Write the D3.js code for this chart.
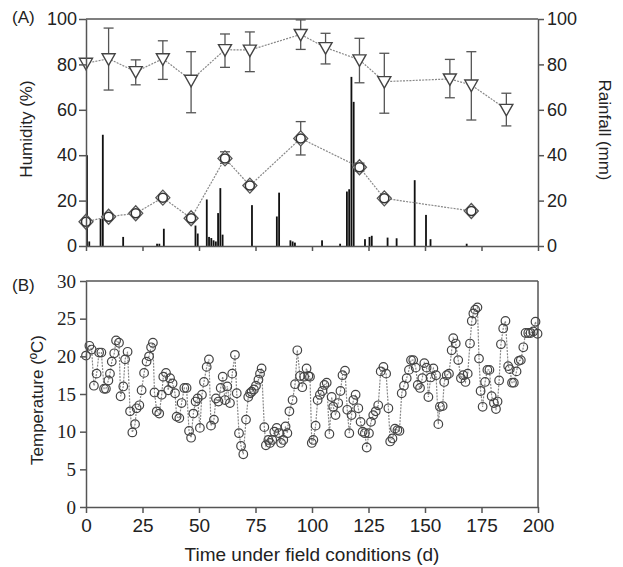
<!DOCTYPE html>
<html>
<head>
<meta charset="utf-8">
<script src="https://cdn.jsdelivr.net/npm/d3@7"></script>
<style>
    body { margin: 0; background: #fff; }
    text { fill: #222; }
</style>
</head>
<body>
<div id="chart"></div>
<script>
(function () {
    'use strict';

    // tick labels
    var xTicks = [0, 25, 50, 75, 100, 125, 150, 175, 200];
    var yTicksA = [0, 20, 40, 60, 80, 100];
    var yTicksB = [0, 5, 10, 15, 20, 25, 30];

    // panel A: humidity (triangles) with error bars
    var humDays = [0, 10, 22, 34, 46.5, 61.5, 72.5, 95, 106, 121, 132, 161, 170.5, 186];
    var humMean = [80.5, 82.5, 76.8, 82.5, 73, 86.5, 86.3, 93.2, 87.4, 82, 72.4, 73.6, 70.9, 60.2];
    var humHigh = [80.5, 96, 82, 90.4, 85.6, 93.4, 94.3, 99.6, 93.7, 91.5, 84.9, 82.2, 85.6, 67.3];
    var humLow = [80.5, 68.7, 71, 73.4, 58.7, 78.7, 76.8, 86.6, 80.2, 71.9, 58.5, 65.3, 55.5, 52.9];

    // panel A: second series (diamonds)
    var diaDays = [0, 10, 22, 34, 46.5, 61.5, 72.5, 95, 121, 132, 170.5];
    var diaMean = [10.7, 12.9, 14.4, 21.3, 12.2, 38.6, 26.6, 47.4, 34.7, 21, 15.4];
    var diaHigh = [10.7, 12.9, 14.4, 21.3, 12.2, 41.5, 26.6, 54.8, 36.5, 21, 15.4];
    var diaLow = [10.7, 12.9, 14.4, 21.3, 12.2, 36.4, 26.6, 40.1, 33, 21, 15.4];

    // panel A: daily rainfall (mm)
    var rainDays = [0, 1, 6, 7, 16, 31, 32, 34, 48, 49, 53, 54, 55, 56, 57, 58, 59, 60, 73, 84, 85,
        90, 91, 92, 104, 112, 115, 116, 117, 118, 123, 125, 126, 133, 137, 145, 150, 152, 168];
    var rainMm = [40, 2, 12, 49, 4, 1, 1, 7.6, 9, 5.5, 20.5, 4, 3.5, 2.5, 2, 14.5, 25.5, 5, 18, 13, 23.5,
        2.5, 2, 1.5, 2.5, 1, 24, 25, 74.5, 63.5, 3, 4, 4.5, 3.7, 3.4, 29, 13.7, 3, 1];

    // panel B: daily temperature (ºC)
    var tempDays = [0, 1.5, 2.5, 3.5, 4.7, 5.8, 6.8, 8, 8.8, 9.9, 10.6, 11.4, 12.5, 13.3, 14.6, 15.3, 16.5,
        17.3, 18.4, 19.5, 20.5, 21.7, 22.4, 23.6, 24.6, 25.7, 26.8, 27.9, 28.8, 29.6, 30.3, 31.3, 32.4,
        33.5, 34.2, 35.4, 36.4, 37.2, 38.3, 39.4, 40.1, 41.3, 42.3, 43.5, 44.5, 45.6, 46.5, 47.5, 48.5,
        49.4, 50.4, 51.3, 52.2, 53.4, 54.4, 55.3, 56.6, 57.5, 58.6, 59.6, 60.5, 61.5, 62.5, 63.7, 64.7,
        65.9, 66.7, 67.7, 68.6, 69.6, 70.8, 71.8, 72.6, 73.3, 74.3, 75.2, 76.3, 77, 77.7, 78.9, 79.6,
        80.7, 81.4, 82.4, 83.3, 84.4, 85.4, 86.3, 87.3, 88.3, 89.1, 90, 91.4, 92.5, 93.5, 94.7, 95.7,
        96.5, 97.6, 98.4, 99.1, 99.9, 100.6, 101.6, 102.5, 103.5, 104.6, 105.5, 106.5, 107.7, 108.7,
        109.4, 110.4, 111.6, 112.6, 113.5, 114.6, 115.6, 116.5, 117.5, 118.3, 119.3, 120.5, 121.5,
        122.4, 123.4, 124.2, 125.2, 126.1, 127.1, 128.2, 129.3, 130.4, 131.6, 132.8, 133.8, 134.6,
        135.6, 136.7, 137.8, 138.7, 139.7, 140.7, 141.9, 142.9, 143.8, 144.8, 145.9, 146.8, 147.8,
        148.8, 149.7, 150.7, 151.5, 152.5, 153.7, 154.9, 155.9, 156.6, 157.8, 158.5, 159.6, 160.6,
        161.8, 162.5, 163.6, 164.7, 165.9, 166.9, 167.9, 168.9, 169.9, 170.7, 171.4, 172.2, 173.2,
        173.9, 174.6, 175.5, 176.6, 177.6, 178.5, 179.5, 180.5, 181.4, 182.1, 182.8, 183.6, 184.6,
        185.6, 186.8, 187.5, 188.5, 189.3, 190.5, 191.5, 192.4, 193.5, 194.5, 195.7, 196.7, 197.9,
        198.9, 199.8];
    var tempVals = [20.1, 21.4, 20.9, 16.1, 17.7, 20.5, 20.5, 15.7, 15.7, 16.8, 17.7, 19.3, 20.4, 22.1, 21.8,
        14.7, 16, 19.6, 20.6, 12.7, 9.9, 11, 13.1, 13.5, 15.5, 17.8, 19.3, 20, 21.2, 21.8, 15.2, 12.7,
        12.4, 14.9, 17.3, 17.8, 15.5, 17.1, 16.4, 15.1, 12, 11.8, 13.8, 15.8, 15.8, 10.1, 9.2, 12.4, 14,
        14.4, 10.5, 14.9, 16.6, 18.6, 19.6, 10.8, 11.6, 14.4, 14, 15.8, 17.3, 14.2, 16, 13.8, 17.7,
        20.2, 15.1, 9.8, 8.1, 7, 11.6, 14.6, 15.1, 15.3, 15.6, 16.1, 16.9, 17.7, 18.4, 10.6, 8.2, 8.9,
        8.5, 8.9, 10, 10.5, 9.8, 8.5, 8.9, 10.7, 9.8, 12.7, 14.2, 16.3, 20.8, 17.4, 15.9, 17.3, 18.4,
        17.4, 17.3, 8.5, 8.9, 10.8, 14.2, 14.9, 15.4, 16.2, 16.5, 9.7, 14.6, 13.3, 12.2, 13.8, 15.4,
        17.5, 18.1, 12.9, 9.8, 12.2, 14.2, 14.9, 13.1, 11.3, 10, 9.8, 7.9, 9.8, 11.3, 12.2, 12.7, 13.5,
        18, 18.6, 17.7, 13.1, 8.7, 9.1, 10.4, 10.2, 10.1, 15.1, 16.1, 17.1, 18.2, 19.5, 19.5, 18.5,
        16.2, 15.8, 17.1, 19.1, 18.5, 14.6, 17.2, 18.4, 17.5, 11, 13.3, 13.4, 16.6, 17.5, 17.7, 20.8,
        22.4, 21.7, 19.5, 17.1, 17.5, 16.6, 17.7, 21.7, 24.7, 25.7, 26.2, 26.5, 19.7, 15.4, 13.3, 16.6,
        18.2, 18.2, 14.7, 13.8, 13, 14, 16.8, 21.6, 23.7, 24.7, 18.7, 18.3, 16.5, 16.5, 18, 19.4, 19.5,
        21.2, 23.1, 23.1, 23.1, 23.3, 24.6, 23];

    var width = 623, height = 567;
    var left = 86, right = 538;
    var topA = 19, bottomA = 246;
    var topB = 281, bottomB = 507;
    var axisColor = '#555';
    var sans = '"Liberation Sans", Arial, sans-serif';
    var serif = '"Liberation Serif", "Times New Roman", serif';

    var svg = d3.select('#chart').append('svg')
        .attr('width', width)
        .attr('height', height);

    var x = d3.scaleLinear().domain([0, 200]).range([left, right]);
    var yA = d3.scaleLinear().domain([0, 100]).range([bottomA, topA]);
    var yB = d3.scaleLinear().domain([0, 30]).range([bottomB, topB]);

    function styleAxis(g, font, size) {
        g.select('.domain').attr('stroke', axisColor).attr('stroke-width', 1.5);
        g.selectAll('.tick line').attr('stroke', axisColor).attr('stroke-width', 1.5);
        g.selectAll('.tick text')
            .style('font-family', font)
            .style('font-size', size + 'px')
            .attr('fill', '#222');
    }

    function frameLine(x1, y1, x2, y2) {
        svg.append('line')
            .attr('x1', x1).attr('y1', y1)
            .attr('x2', x2).attr('y2', y2)
            .attr('stroke', axisColor)
            .attr('stroke-width', 1.5);
    }

    // ---------- panel A ----------
    frameLine(left, topA, right, topA);

    // rainfall bars
    var barW = (x(1) - x(0)) * 0.8;
    svg.append('g').selectAll('rect')
        .data(rainDays)
        .enter()
        .append('rect')
        .attr('x', function (d) { return x(d) - barW / 2 + 1; })
        .attr('y', function (d, i) { return yA(rainMm[i]); })
        .attr('width', barW)
        .attr('height', function (d, i) { return yA(0) - yA(rainMm[i]); })
        .attr('fill', '#111');

    function errorBars(days, hi, lo) {
        var g = svg.append('g')
            .attr('stroke', '#555')
            .attr('stroke-width', 1.3);
        days.forEach(function (d, i) {
            if (hi[i] - lo[i] < 0.5) { return; }
            g.append('line')
                .attr('x1', x(d)).attr('x2', x(d))
                .attr('y1', yA(hi[i])).attr('y2', yA(lo[i]));
            g.append('line')
                .attr('x1', x(d) - 5).attr('x2', x(d) + 5)
                .attr('y1', yA(hi[i])).attr('y2', yA(hi[i]));
            g.append('line')
                .attr('x1', x(d) - 5).attr('x2', x(d) + 5)
                .attr('y1', yA(lo[i])).attr('y2', yA(lo[i]));
        });
    }

    function seriesLine(days, vals, yScale) {
        var line = d3.line()
            .x(function (d) { return x(d); })
            .y(function (d, i) { return yScale(vals[i]); });
        svg.append('path')
            .datum(days)
            .attr('d', line)
            .attr('fill', 'none')
            .attr('stroke', '#888')
            .attr('stroke-width', 1.2)
            .attr('stroke-dasharray', '2,1.2');
    }

    errorBars(humDays, humHigh, humLow);
    errorBars(diaDays, diaHigh, diaLow);
    seriesLine(humDays, humMean, yA);
    seriesLine(diaDays, diaMean, yA);

    // down-pointing triangles
    svg.append('g').selectAll('path')
        .data(humDays)
        .enter()
        .append('path')
        .attr('transform', function (d, i) {
            return 'translate(' + x(d) + ',' + yA(humMean[i]) + ')';
        })
        .attr('d', 'M-6.5,-5L6.5,-5L0,6.5Z')
        .attr('fill', '#fff')
        .attr('stroke', '#444')
        .attr('stroke-width', 1.4);

    // diamond markers with inner circle
    var dia = svg.append('g').selectAll('g')
        .data(diaDays)
        .enter()
        .append('g')
        .attr('transform', function (d, i) {
            return 'translate(' + x(d) + ',' + yA(diaMean[i]) + ')';
        });
    dia.append('path')
        .attr('d', 'M0,-7.5L7,0L0,7.5L-7,0Z')
        .attr('fill', '#fff')
        .attr('stroke', '#555')
        .attr('stroke-width', 1.3);
    dia.append('circle')
        .attr('r', 4.5)
        .attr('fill', 'none')
        .attr('stroke', '#333')
        .attr('stroke-width', 1.5);

    var axLeftA = svg.append('g')
        .attr('transform', 'translate(' + left + ',0)')
        .call(d3.axisLeft(yA).tickValues(yTicksA).tickSize(7).tickSizeOuter(0).tickPadding(2));
    styleAxis(axLeftA, sans, 18);

    var axRightA = svg.append('g')
        .attr('transform', 'translate(' + right + ',0)')
        .call(d3.axisRight(yA).tickValues(yTicksA).tickSize(6).tickSizeOuter(0).tickPadding(3));
    styleAxis(axRightA, sans, 18);

    var axBottomA = svg.append('g')
        .attr('transform', 'translate(0,' + bottomA + ')')
        .call(d3.axisBottom(x).tickValues(xTicks).tickSize(5).tickSizeOuter(0).tickFormat(''));
    styleAxis(axBottomA, sans, 18);

    svg.append('text')
        .attr('transform', 'translate(32,129) rotate(-90)')
        .attr('text-anchor', 'middle')
        .style('font-family', sans)
        .style('font-size', '17px')
        .text('Humidity (%)');

    svg.append('text')
        .attr('transform', 'translate(599,130) rotate(90)')
        .attr('text-anchor', 'middle')
        .style('font-family', sans)
        .style('font-size', '17px')
        .text('Rainfall (mm)');

    svg.append('text')
        .attr('x', 12).attr('y', 23)
        .style('font-family', sans)
        .style('font-size', '17px')
        .text('(A)');

    // ---------- panel B ----------
    frameLine(left, topB, right, topB);
    frameLine(right, topB, right, bottomB);

    seriesLine(tempDays, tempVals, yB);

    svg.append('g').selectAll('circle')
        .data(tempDays)
        .enter()
        .append('circle')
        .attr('cx', function (d) { return x(d); })
        .attr('cy', function (d, i) { return yB(tempVals[i]); })
        .attr('r', 4.3)
        .attr('fill', 'none')
        .attr('stroke', '#444')
        .attr('stroke-width', 1.2);

    var axLeftB = svg.append('g')
        .attr('transform', 'translate(' + left + ',0)')
        .call(d3.axisLeft(yB).tickValues(yTicksB).tickSize(6).tickSizeOuter(0).tickPadding(4));
    styleAxis(axLeftB, serif, 19);

    var axBottomB = svg.append('g')
        .attr('transform', 'translate(0,' + bottomB + ')')
        .call(d3.axisBottom(x).tickValues(xTicks).tickSize(6).tickSizeOuter(0).tickPadding(6));
    styleAxis(axBottomB, sans, 19);

    svg.append('text')
        .attr('transform', 'translate(43,400) rotate(-90)')
        .attr('text-anchor', 'middle')
        .style('font-family', sans)
        .style('font-size', '17px')
        .text('Temperature (ºC)');

    svg.append('text')
        .attr('x', (left + right) / 2)
        .attr('y', 561)
        .attr('text-anchor', 'middle')
        .style('font-family', sans)
        .style('font-size', '19px')
        .text('Time under field conditions (d)');

    svg.append('text')
        .attr('x', 12).attr('y', 291)
        .style('font-family', sans)
        .style('font-size', '17px')
        .text('(B)');
})();
</script>
</body>
</html>
